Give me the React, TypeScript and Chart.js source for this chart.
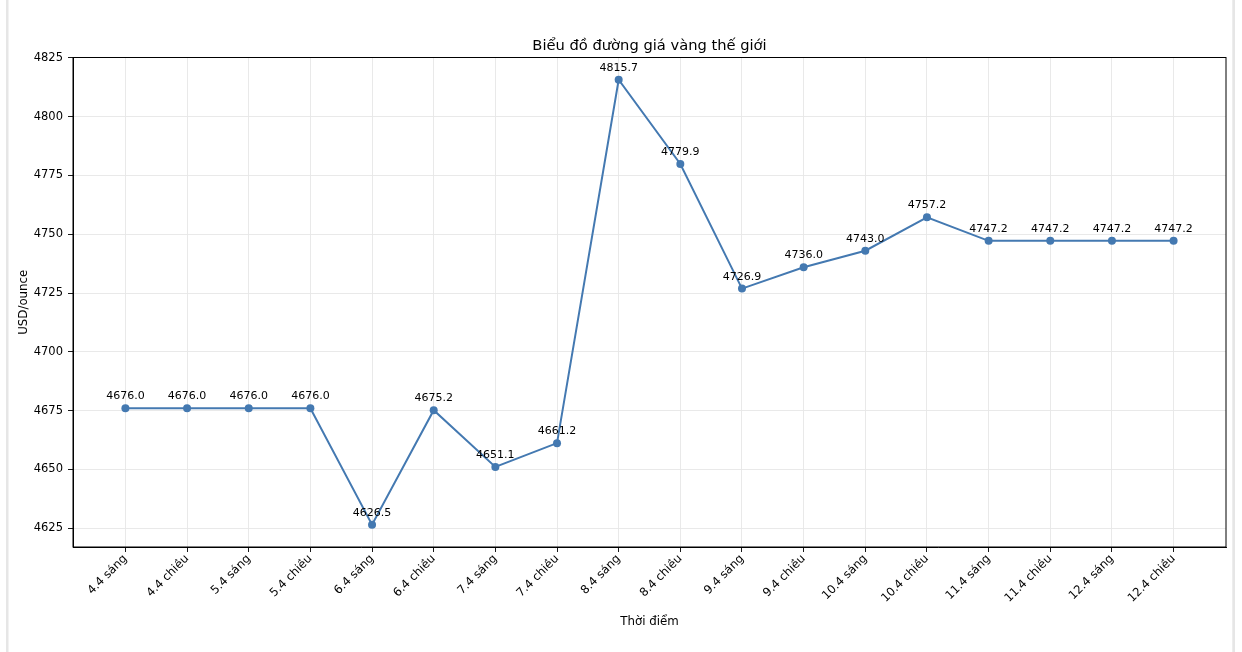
import React, { useEffect, useRef } from "react";
import { Chart, registerables } from "chart.js";

Chart.register(...registerables);

const TITLE = "Biểu đồ đường giá vàng thế giới";
const X_TITLE = "Thời điểm";
const Y_TITLE = "USD/ounce";

const categories = [
  "4.4 sáng", "4.4 chiều", "5.4 sáng", "5.4 chiều", "6.4 sáng", "6.4 chiều",
  "7.4 sáng", "7.4 chiều", "8.4 sáng", "8.4 chiều", "9.4 sáng", "9.4 chiều",
  "10.4 sáng", "10.4 chiều", "11.4 sáng", "11.4 chiều", "12.4 sáng", "12.4 chiều",
];

const prices = [
  4676.0, 4676.0, 4676.0, 4676.0, 4626.5, 4675.2, 4651.1, 4661.2, 4815.7,
  4779.9, 4726.9, 4736.0, 4743.0, 4757.2, 4747.2, 4747.2, 4747.2, 4747.2,
];

const yTicks = [4625, 4650, 4675, 4700, 4725, 4750, 4775, 4800, 4825];

const FONT = "'DejaVu Sans', sans-serif";
const LINE_COLOR = "#4479b1";

export default function App() {
  const ref = useRef<HTMLCanvasElement | null>(null);

  useEffect(() => {
    const canvas = ref.current;
    if (!canvas) return;

    const yMin = Math.min(...prices);
    const yMax = Math.max(...prices);
    const yPad = (yMax - yMin) * 0.05;
    const n = categories.length;
    const xPad = (n - 1) * 0.05;

    const decor = {
      id: "decor",
      beforeDraw(chart: any) {
        const ctx = chart.ctx;
        ctx.save();
        ctx.fillStyle = "#ffffff";
        ctx.fillRect(0, 0, chart.width, chart.height);
        ctx.fillStyle = "#e6e6e6";
        ctx.fillRect(6, 0, 2.5, chart.height);
        ctx.fillRect(1232.3, 0, 2.7, chart.height);
        ctx.restore();
      },
      afterDraw(chart: any) {
        const ctx = chart.ctx;
        const a = chart.chartArea;
        const xs = chart.scales.x;
        const ys = chart.scales.y;
        ctx.save();
        ctx.strokeStyle = "#000";
        ctx.lineWidth = 1;
        ctx.strokeRect(a.left, a.top, a.right - a.left, a.bottom - a.top);
        ctx.fillStyle = "#000";
        ctx.font = `11px ${FONT}`;
        ctx.textAlign = "center";
        ctx.textBaseline = "alphabetic";
        prices.forEach((v, i) => {
          const px = xs.getPixelForValue(i);
          const py = ys.getPixelForValue(v);
          ctx.fillText(v.toFixed(1), px, py - 9);
        });
        const cx = (a.left + a.right) / 2;
        ctx.font = `14.7px ${FONT}`;
        ctx.fillText(TITLE, cx, 50);
        ctx.font = `11.8px ${FONT}`;
        ctx.fillText(X_TITLE, cx, 625);
        ctx.translate(27, (a.top + a.bottom) / 2);
        ctx.rotate(-Math.PI / 2);
        ctx.fillText(Y_TITLE, 0, 0);
        ctx.restore();
      },
    };

    const chart = new Chart(canvas, {
      type: "line",
      data: {
        datasets: [
          {
            data: prices.map((v, i) => ({ x: i, y: v })),
            borderColor: LINE_COLOR,
            backgroundColor: LINE_COLOR,
            borderWidth: 2,
            pointRadius: 4,
            pointHoverRadius: 4,
            pointBackgroundColor: LINE_COLOR,
            pointBorderColor: LINE_COLOR,
            pointBorderWidth: 0,
            tension: 0,
          },
        ],
      },
      options: {
        animation: false,
        responsive: false,
        devicePixelRatio: 1,
        layout: { padding: { left: 13, top: 57.5, right: 16, bottom: 10 } },
        plugins: {
          legend: { display: false },
          tooltip: { enabled: false },
          title: { display: false },
        },
        scales: {
          x: {
            type: "linear",
            min: -xPad,
            max: n - 1 + xPad,
            afterBuildTicks(scale: any) {
              scale.ticks = categories.map((_, i) => ({ value: i }));
            },
            afterFit(scale: any) {
              scale.height = 95;
            },
            ticks: {
              autoSkip: false,
              minRotation: 45,
              maxRotation: 45,
              padding: 0,
              color: "#000",
              font: { family: FONT, size: 11.7 },
              callback: (v: any) => categories[Math.round(Number(v))] ?? "",
            },
            grid: {
              color: "#e6e6e6",
              lineWidth: 0.9,
              tickColor: "#000",
              tickLength: 5,
              drawTicks: true,
            },
            border: { display: true, color: "#000", width: 1 },
          },
          y: {
            type: "linear",
            min: yMin - yPad,
            max: yMax + yPad,
            afterBuildTicks(scale: any) {
              scale.ticks = yTicks.map((v) => ({ value: v }));
            },
            afterFit(scale: any) {
              scale.width = 60;
            },
            ticks: {
              padding: 5,
              color: "#000",
              font: { family: FONT, size: 11.5 },
              callback: (v: any) => String(v),
            },
            grid: {
              color: "#e6e6e6",
              lineWidth: 0.9,
              tickColor: "#000",
              tickLength: 5,
              drawTicks: true,
            },
            border: { display: true, color: "#000", width: 1 },
          },
        },
      },
      plugins: [decor],
    } as any);

    return () => chart.destroy();
  }, []);

  return (
    <div style={{ position: "fixed", left: 0, top: 0, width: 1242, height: 652, background: "#fff" }}>
      <canvas ref={ref} width={1242} height={652} style={{ display: "block", width: 1242, height: 652 }} />
    </div>
  );
}
